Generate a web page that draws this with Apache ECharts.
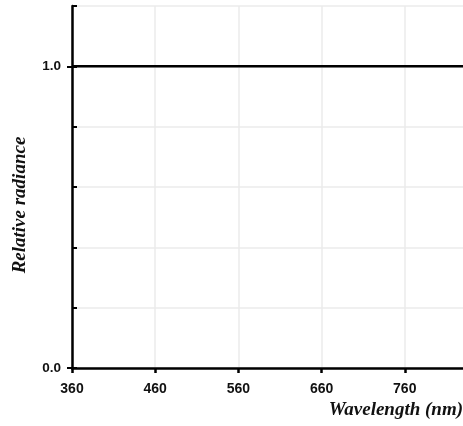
<!DOCTYPE html>
<html><head><meta charset="utf-8">
<script src="https://cdn.jsdelivr.net/npm/echarts@6/dist/echarts.min.js"></script>
<style>html,body{margin:0;padding:0;background:#fff}#c{width:463px;height:426px}</style>
</head><body><div id="c"></div>
<script>
const wavelengths = [360, 830];
const radiance = [1.0, 1.0];
const xTicks = [360, 460, 560, 660, 760];
const yMajorTicks = [0, 1];

const chart = echarts.init(document.getElementById('c'), null, {renderer: 'canvas'});
const labelFont = {color: '#111', fontFamily: 'Liberation Sans, Arial', fontWeight: 'bold', fontSize: 14};
chart.setOption({
  animation: false,
  grid: {left: 72, right: 0, top: 6, bottom: 58, containLabel: false},
  xAxis: {
    type: 'value', min: 360, max: 830, interval: 100,
    axisLine: {show: true, onZero: false, lineStyle: {color: '#000', width: 2.5}},
    axisTick: {show: true, inside: false, length: 5, lineStyle: {color: '#000', width: 2.5}, customValues: xTicks},
    axisLabel: {show: true, margin: 14, customValues: xTicks, formatter: v => String(v), ...labelFont},
    splitLine: {show: true, lineStyle: {color: '#ebebeb', width: 1.5}}
  },
  yAxis: [{
    type: 'value', min: 0, max: 1.2, interval: 0.2,
    axisLine: {show: true, lineStyle: {color: '#000', width: 2.5}},
    axisTick: {show: true, inside: true, length: 5, lineStyle: {color: '#000', width: 2}},
    axisLabel: {show: false},
    splitLine: {show: true, lineStyle: {color: '#ebebeb', width: 1.5}}
  }, {
    type: 'value', min: 0, max: 1.2, interval: 0.2, position: 'left',
    axisLine: {show: false},
    axisTick: {show: true, inside: false, length: 5, lineStyle: {color: '#000', width: 2}, customValues: yMajorTicks},
    axisLabel: {show: true, margin: 11, customValues: yMajorTicks, formatter: v => v.toFixed(1), ...labelFont, fontSize: 13.5},
    splitLine: {show: false}
  }],
  graphic: [
    {type: 'text', right: 0, top: 401, style: {text: 'Wavelength (nm)', fill: '#111', font: 'italic bold 19px "Liberation Serif"'}},
    {type: 'text', x: 20, y: 205, rotation: Math.PI / 2, style: {text: 'Relative radiance', fill: '#111', font: 'italic bold 19px "Liberation Serif"', align: 'center', verticalAlign: 'middle'}}
  ],
  series: [{
    type: 'line', xAxisIndex: 0, yAxisIndex: 0,
    data: wavelengths.map((w, i) => [w, radiance[i]]),
    showSymbol: false, lineStyle: {color: '#000', width: 2.5}
  }]
});
</script></body></html>
